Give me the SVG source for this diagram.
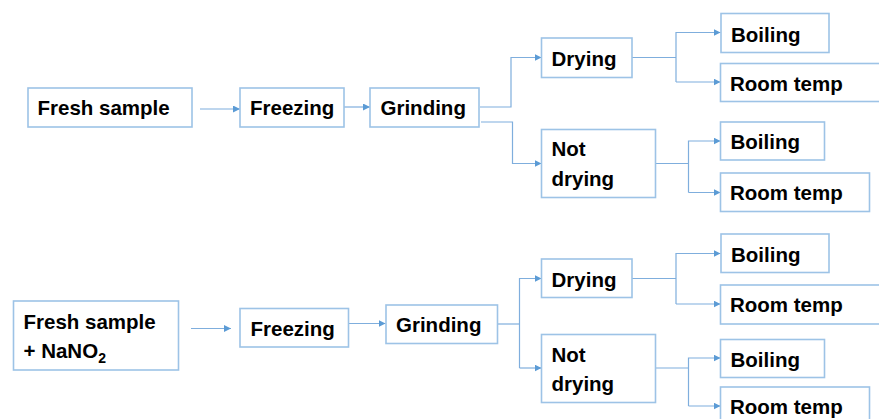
<svg xmlns="http://www.w3.org/2000/svg" width="879" height="419" viewBox="0 0 879 419">
<style>
.box{fill:#fff;stroke:#9DC3E6;stroke-width:1.6}
.t{font-family:"Liberation Sans",Arial,sans-serif;font-weight:bold;font-size:20.5px;fill:#000}
.c{fill:none;stroke:#7FAEDD;stroke-width:1.2}
</style>
<defs>
<marker id="ah" viewBox="0 0 10 10" refX="10" refY="5" markerWidth="7" markerHeight="7" markerUnits="userSpaceOnUse" orient="auto">
<path d="M0,0 L10,5 L0,10 z" fill="#5B9BD5"/>
</marker>
</defs>
<rect width="879" height="419" fill="#fff"/>
<g id="connectors">
<path class="c" d="M200,109 H240" marker-end="url(#ah)"/>
<path class="c" d="M344,107 H370" marker-end="url(#ah)"/>
<path class="c" d="M480,107 H511 V57.5 H541.5" marker-end="url(#ah)"/>
<path class="c" d="M481,122 H512.5 V163.5 H541.5" marker-end="url(#ah)"/>
<path class="c" d="M632,57.5 H676"/>
<path class="c" d="M676,82 V32.5 H720.5" marker-end="url(#ah)"/>
<path class="c" d="M676,82 H720.5" marker-end="url(#ah)"/>
<path class="c" d="M655.5,163.5 H688.5"/>
<path class="c" d="M688.5,192.5 V141 H720.5" marker-end="url(#ah)"/>
<path class="c" d="M688.5,192.5 H720.5" marker-end="url(#ah)"/>
<path class="c" d="M191,328.5 H231" marker-end="url(#ah)"/>
<path class="c" d="M348.5,323.5 H385.5" marker-end="url(#ah)"/>
<path class="c" d="M497.5,324 H519.5"/>
<path class="c" d="M519.5,368 V278.5 H541.5" marker-end="url(#ah)"/>
<path class="c" d="M519.5,368 H541.5" marker-end="url(#ah)"/>
<path class="c" d="M632,278.5 H676"/>
<path class="c" d="M676,304 V253.5 H720.5" marker-end="url(#ah)"/>
<path class="c" d="M676,304 H720.5" marker-end="url(#ah)"/>
<path class="c" d="M655.5,368 H688.5"/>
<path class="c" d="M688.5,406 V358 H720.5" marker-end="url(#ah)"/>
<path class="c" d="M688.5,406 H720.5" marker-end="url(#ah)"/>
</g>
<g id="fresh1"><rect class="box" x="28" y="88" width="164" height="39"/><text class="t" x="37.5" y="115">Fresh sample</text></g>
<g id="freeze1"><rect class="box" x="240" y="88" width="104" height="39"/><text class="t" x="250" y="115">Freezing</text></g>
<g id="grind1"><rect class="box" x="370" y="88" width="109" height="39"/><text class="t" x="380.5" y="115">Grinding</text></g>
<g id="dry1"><rect class="box" x="541.5" y="38" width="90.5" height="39.5"/><text class="t" x="551.5" y="65.5">Drying</text></g>
<g id="notdry1"><rect class="box" x="541.5" y="129.5" width="114" height="68"/><text class="t" x="551.5" y="156">Not</text><text class="t" x="551.5" y="185.5">drying</text></g>
<g id="boil1"><rect class="box" x="721" y="13.5" width="108" height="39"/><text class="t" x="731" y="41.5">Boiling</text></g>
<g id="room1"><rect class="box" x="720.5" y="63.5" width="161" height="38"/><text class="t" x="730" y="91">Room temp</text></g>
<g id="boil2"><rect class="box" x="720.5" y="122" width="104" height="38"/><text class="t" x="730.5" y="148.5">Boiling</text></g>
<g id="room2"><rect class="box" x="720.5" y="173" width="149" height="38.5"/><text class="t" x="730" y="199.5">Room temp</text></g>
<g id="fresh2"><rect class="box" x="13.5" y="301" width="165" height="69"/><text class="t" x="23.5" y="328.5">Fresh sample</text><text class="t" x="23.5" y="357.5">+ NaNO<tspan font-size="14" dy="5">2</tspan></text></g>
<g id="freeze2"><rect class="box" x="240" y="308.5" width="108.5" height="38.5"/><text class="t" x="250.5" y="336">Freezing</text></g>
<g id="grind2"><rect class="box" x="386" y="305" width="111.5" height="38.5"/><text class="t" x="396" y="332">Grinding</text></g>
<g id="dry2"><rect class="box" x="541.5" y="259" width="90.5" height="38.5"/><text class="t" x="551.5" y="286.5">Drying</text></g>
<g id="notdry2"><rect class="box" x="541.5" y="334.5" width="114" height="68"/><text class="t" x="551.5" y="362">Not</text><text class="t" x="551.5" y="390.5">drying</text></g>
<g id="boil3"><rect class="box" x="721" y="234" width="108" height="38.5"/><text class="t" x="731" y="261.5">Boiling</text></g>
<g id="room3"><rect class="box" x="720.5" y="285" width="161" height="39"/><text class="t" x="730" y="312">Room temp</text></g>
<g id="boil4"><rect class="box" x="720.5" y="339.5" width="104" height="38"/><text class="t" x="730.5" y="366.5">Boiling</text></g>
<g id="room4"><rect class="box" x="720.5" y="387" width="149" height="40"/><text class="t" x="730" y="413.5">Room temp</text></g>
</svg>
